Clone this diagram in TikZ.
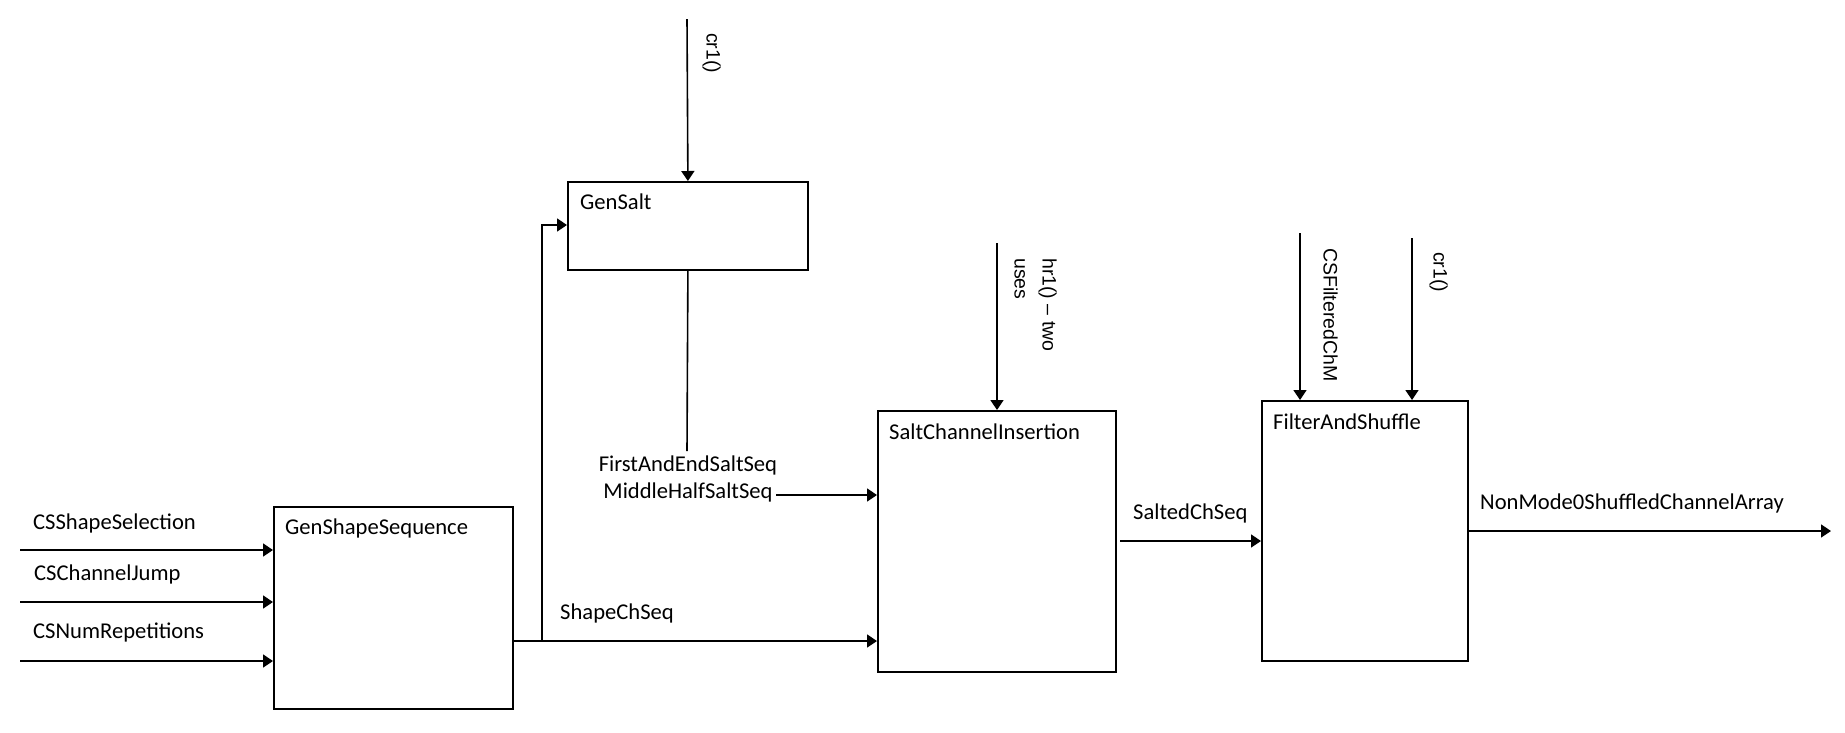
\documentclass[tikz,border=0pt]{standalone}
\usepackage{fontspec}
\setmainfont{Carlito}
\newfontfamily\arialf{Liberation Sans}
\usetikzlibrary{arrows.meta,calc}
\begin{document}
\begin{tikzpicture}[x=1pt,y=-1pt,
  blk/.style={draw=black,line width=1.8pt,rectangle,inner sep=0pt,anchor=north west},
  lbl/.style={inner sep=0pt,font=\fontsize{22.6}{27}\selectfont,anchor=mid west},
  vlbl/.style={inner sep=0pt,font=\arialf\fontsize{19.5}{28}\selectfont,rotate=-90,anchor=mid west},
  arr/.style={line width=1.6pt,-{Triangle[length=10pt,width=13pt]}},
  ln/.style={line width=1.6pt}]
\useasboundingbox (0,0) rectangle (1845,732);
% boxes
\node[blk,minimum width=239pt,minimum height=202pt] (gss) at (273,506) {};
\node[blk,minimum width=240pt,minimum height=88pt] (gsalt) at (567,181) {};
\node[blk,minimum width=238pt,minimum height=261pt] (sci) at (877,410) {};
\node[blk,minimum width=206pt,minimum height=260pt] (fas) at (1261,400) {};
% box titles
\node[lbl] (tgss) at (285,532) {GenShapeSequence};
\node[lbl] (tgsalt) at (580,207) {GenSalt};
\node[lbl] (tsci) at (889,437) {SaltChannelInsertion};
\node[lbl] (tfas) at (1273,427) {FilterAndShuffle};
% inputs to GenShapeSequence
\coordinate (i1) at (20,550);
\coordinate (i2) at (20,602);
\coordinate (i3) at (20,661);
\draw[arr] (i1) -- (i1 -| gss.west);
\draw[arr] (i2) -- (i2 -| gss.west);
\draw[arr] (i3) -- (i3 -| gss.west);
\node[lbl] (l1) at (33,527) {CSShapeSelection};
\node[lbl] (l2) at (34,578) {CSChannelJump};
\node[lbl] (l3) at (33,636) {CSNumRepetitions};
% ShapeChSeq
\coordinate (o1) at (512,641);
\coordinate (br) at (542,641);
\draw[arr] (o1) -- (o1 -| sci.west);
\draw[arr] (br) -- (542,225) -- (gsalt.west |- 0,225);
\node[lbl] (lshape) at (560,617) {ShapeChSeq};
% cr1 into GenSalt
\coordinate (c1) at (687,19);
\draw[arr] (c1) -- (gsalt.north);
\node[vlbl] (lc1) at (709,33) {cr1()};
% GenSalt output
\coordinate (gsend) at (687,451);
\draw[ln] (gsalt.south) -- (gsend);
\node[inner sep=0pt,font=\fontsize{22.6}{27}\selectfont,align=center] (lsalt) at (688,479) {FirstAndEndSaltSeq\\MiddleHalfSaltSeq};
\coordinate (ms) at (776,495);
\draw[arr] (ms) -- (ms -| sci.west);
% hr1 into SaltChannelInsertion
\coordinate (h1) at (997,243);
\draw[arr] (h1) -- (h1 |- sci.north);
\node[inner sep=0pt,font=\arialf\fontsize{19.5}{28}\selectfont,rotate=-90,anchor=north west,align=left] (lh1) at (1057,258) {hr1() – two\\uses};
% SaltedChSeq
\coordinate (s1) at (1120,541);
\draw[arr] (s1) -- (s1 -| fas.west);
\node[lbl] (lsalted) at (1133,517) {SaltedChSeq};
% inputs to FilterAndShuffle
\coordinate (f1) at (1300,233);
\coordinate (f2) at (1412,238);
\draw[arr] (f1) -- (f1 |- fas.north);
\draw[arr] (f2) -- (f2 |- fas.north);
\node[vlbl] (lf1) at (1326,248) {CSFilteredChM};
\node[vlbl] (lf2) at (1436,252) {cr1()};
% output
\coordinate (out) at (1831,531);
\draw[arr] (out -| fas.east) -- (out);
\node[lbl] (lout) at (1480,507) {NonMode0ShuffledChannelArray};
\end{tikzpicture}
\end{document}
